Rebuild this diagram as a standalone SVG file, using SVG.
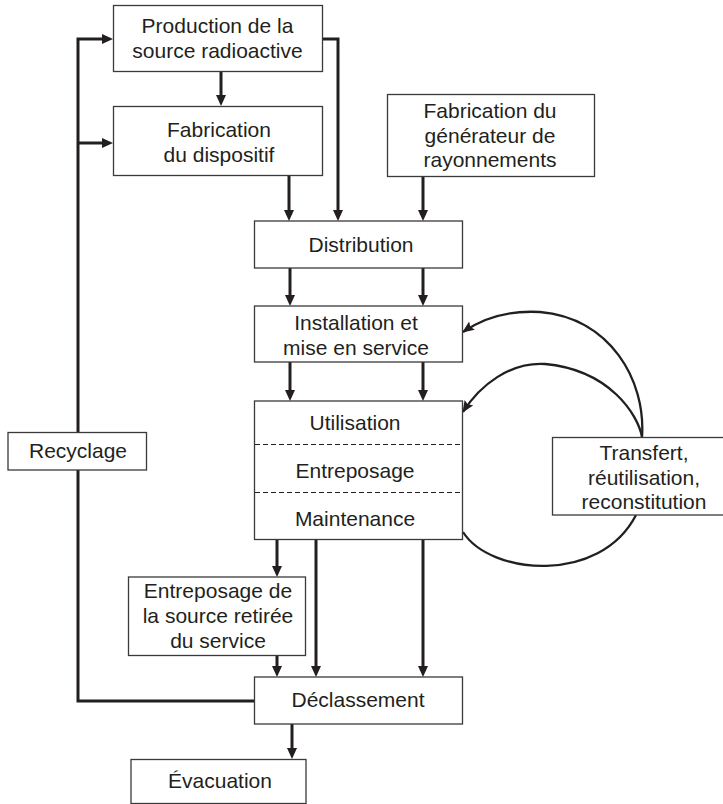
<svg xmlns="http://www.w3.org/2000/svg" width="723" height="804" viewBox="0 0 723 804">
<style>
.box{fill:#fff;stroke:#3a3a3a;stroke-width:1.3}
.t{font-family:"Liberation Sans",Arial,Helvetica,sans-serif;font-size:21px;fill:#231f20;text-anchor:middle}
.c{fill:none;stroke:#231f20;stroke-width:3}
.a{marker-end:url(#ah)}
.cv{fill:none;stroke:#231f20;stroke-width:2.3}
.dash{stroke:#231f20;stroke-width:1.2;stroke-dasharray:5,3}
</style>
<defs>
<marker id="ah" markerUnits="userSpaceOnUse" markerWidth="12" markerHeight="11" refX="3" refY="5" orient="auto">
<path d="M0,0 L11,5 L0,10 z" fill="#231f20"/>
</marker>
<marker id="ah2" markerUnits="userSpaceOnUse" markerWidth="14" markerHeight="11" refX="11" refY="5" orient="auto">
<path d="M0,0 L12,5 L0,10 L2,5 z" fill="#231f20"/>
</marker>
</defs>
<g id="connectors">
<path class="c a" d="M254,701 H78 V39 H105"/>
<path class="c a" d="M78,143 H105"/>
<path class="c a" d="M221,71 V98"/>
<path class="c a" d="M322,39 H338 V213"/>
<path class="c a" d="M289,176 V213"/>
<path class="c a" d="M423,177 V213"/>
<path class="c a" d="M290,268 V298"/>
<path class="c a" d="M423,268 V298"/>
<path class="c a" d="M290,362 V393"/>
<path class="c a" d="M423,362 V393"/>
<path class="c a" d="M277,539 V569"/>
<path class="c a" d="M316,539 V669"/>
<path class="c a" d="M423,539 V669"/>
<path class="c a" d="M277,655 V669"/>
<path class="c a" d="M292,724 V751"/>
<path class="cv" d="M642,437 C646,380 610,318 540,312 C505,310 480,320 463,332" marker-end="url(#ah2)"/>
<path class="cv" d="M642,437 C638,415 610,370 545,364 C510,362 480,385 463,412" marker-end="url(#ah2)"/>
<path class="cv" d="M463,532 C490,575 600,585 636,515"/>
</g>
<g id="production">
<rect class="box" x="113.5" y="5.5" width="209" height="66"/>
<text class="t" x="217.5" y="33">Production de la</text>
<text class="t" x="217.5" y="58">source radioactive</text>
</g>
<g id="fabrication-dispositif">
<rect class="box" x="113.5" y="106.5" width="209" height="69"/>
<text class="t" x="219" y="137">Fabrication</text>
<text class="t" x="219" y="162">du dispositif</text>
</g>
<g id="fabrication-generateur">
<rect class="box" x="387.5" y="94.5" width="207" height="82"/>
<text class="t" x="490" y="118">Fabrication du</text>
<text class="t" x="490" y="142.5">générateur de</text>
<text class="t" x="490" y="167">rayonnements</text>
</g>
<g id="distribution">
<rect class="box" x="254.5" y="221" width="208" height="47"/>
<text class="t" x="361" y="252">Distribution</text>
</g>
<g id="installation">
<rect class="box" x="254.5" y="306" width="208" height="56"/>
<text class="t" x="356" y="330">Installation et</text>
<text class="t" x="356" y="355">mise en service</text>
</g>
<g id="utilisation">
<rect class="box" x="254.5" y="401" width="208" height="138.5"/>
<line class="dash" x1="255" y1="444.5" x2="462" y2="444.5"/>
<line class="dash" x1="255" y1="492.5" x2="462" y2="492.5"/>
<text class="t" x="355" y="430">Utilisation</text>
<text class="t" x="355" y="478">Entreposage</text>
<text class="t" x="355" y="526">Maintenance</text>
</g>
<g id="transfert">
<rect class="box" x="552.5" y="437.5" width="180" height="77.5"/>
<text class="t" x="644" y="460">Transfert,</text>
<text class="t" x="644" y="484.5">réutilisation,</text>
<text class="t" x="644" y="509">reconstitution</text>
</g>
<g id="recyclage">
<rect class="box" x="8" y="432.5" width="138.5" height="37.5"/>
<text class="t" x="78" y="458">Recyclage</text>
</g>
<g id="entreposage-source">
<rect class="box" x="128.5" y="577" width="177" height="78.5"/>
<text class="t" x="218" y="598">Entreposage de</text>
<text class="t" x="218" y="623">la source retirée</text>
<text class="t" x="218" y="648">du service</text>
</g>
<g id="declassement">
<rect class="box" x="254.5" y="677" width="208" height="47"/>
<text class="t" x="358" y="707">Déclassement</text>
</g>
<g id="evacuation">
<rect class="box" x="131" y="759.5" width="175" height="44"/>
<text class="t" x="220" y="788">Évacuation</text>
</g>
</svg>
